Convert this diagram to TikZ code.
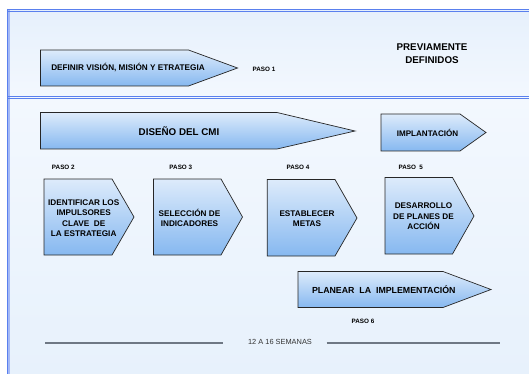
\documentclass[tikz,border=0pt]{standalone}
\usepackage{fontspec}
\setmainfont{Liberation Sans}
\begin{document}
\begin{tikzpicture}[x=1pt,y=-1pt,
  arrowbox/.style={draw=black!85,line width=0.7pt,top color=arrowtop,bottom color=arrowbot,line join=miter},
  frameline/.style={draw=framecol,line width=0.8pt},
  boxtxt/.style={align=center,inner sep=0pt,font=\bfseries\fontsize{8.2}{10.4}\selectfont},
  pasotxt/.style={inner sep=0pt,font=\bfseries\fontsize{6.3}{7}\selectfont},
  bigtxt/.style={align=center,inner sep=0pt,font=\bfseries\fontsize{9.8}{12.6}\selectfont},
  weekline/.style={draw=weekcol,line width=1.6pt}]
\definecolor{arrowtop}{HTML}{DDEBFB}
\definecolor{arrowbot}{HTML}{86B8F0}
\definecolor{framecol}{HTML}{5A80EE}
\definecolor{bgtop}{HTML}{E6F0FC}
\definecolor{bgmid}{HTML}{F3F8FE}
\definecolor{bgbot}{HTML}{E7F1FC}
\definecolor{weekcol}{HTML}{6E7884}
\newcommand\myarrow[6]{\path[arrowbox] (#1,#4) -- (#2,#4) -- (#3,#6) -- (#2,#5) -- (#1,#5) -- cycle;}
\useasboundingbox (0,0) rectangle (529,374);
\fill[white] (0,0) rectangle (529,374);
% panels
\shade[top color=bgtop,bottom color=bgmid] (7,9.5) rectangle (529,97.5);
\shade[top color=bgmid,bottom color=bgbot] (7,97.5) rectangle (529,374);
% frame
\fill[framecol!55] (7,9) rectangle (10,374);
\draw[framecol,line width=0.8pt] (7.4,9) -- (7.4,374);
\draw[frameline] (7,9.6) -- (529,9.6);
\draw[frameline] (7,11.3) -- (529,11.3);
\draw[frameline] (7,96.8) -- (529,96.8);
\draw[frameline] (7,98.5) -- (529,98.5);
% top part
\myarrow{40.5}{188.5}{237.5}{50}{86}{68}
\node[inner sep=0pt,font=\bfseries\fontsize{8.2}{10}\selectfont] (vision) at (128,68) {DEFINIR VISIÓN, MISIÓN Y ETRATEGIA};
\node[pasotxt] (paso1) at (264,69.5) {PASO 1};
\node[bigtxt] (prev) at (432,53.5) {PREVIAMENTE\\DEFINIDOS};
% big arrows
\myarrow{40.5}{277}{355}{112.5}{149}{131}
\node[bigtxt] (diseno) at (179,131) {DISEÑO DEL CMI};
\myarrow{381}{460}{486}{114}{151}{132.5}
\node[inner sep=0pt,font=\bfseries\fontsize{8.1}{10}\selectfont] (implant) at (427.5,132.5) {IMPLANTACIÓN};
% paso labels
\node[pasotxt] (paso2) at (63.3,167.5) {PASO 2};
\node[pasotxt] (paso3) at (180.8,167.5) {PASO 3};
\node[pasotxt] (paso4) at (298,167.5) {PASO 4};
\node[pasotxt] (paso5) at (410.8,167.5) {PASO\ \ 5};
% step boxes
\myarrow{44}{112}{134}{179}{255}{217}
\node[boxtxt] (b2) at (83.7,218) {IDENTIFICAR LOS\\IMPULSORES\\CLAVE\ \ DE\\LA ESTRATEGIA};
\myarrow{153.5}{221}{242.5}{179}{255}{217}
\node[boxtxt] (b3) at (189.5,218) {SELECCIÓN DE\\INDICADORES};
\myarrow{267.3}{335}{357}{179.5}{256}{218}
\node[boxtxt] (b4) at (307,218.5) {ESTABLECER\\METAS};
\myarrow{385}{452.5}{474}{177.5}{254}{216}
\node[boxtxt] (b5) at (423.5,216.5) {DESARROLLO\\DE PLANES DE\\ACCIÓN};
% planear
\myarrow{298}{443}{491}{271.5}{307.5}{289.5}
\node[inner sep=0pt,font=\bfseries\fontsize{8.8}{10}\selectfont] (planear) at (383.8,289.5) {PLANEAR\ \ LA\ \ IMPLEMENTACIÓN};
\node[pasotxt] (paso6) at (363,321.5) {PASO 6};
% weeks
\node[inner sep=0pt,text=black!80,font=\fontsize{7.4}{9}\selectfont] (weeks) at (280,341.8) {12 A 16 SEMANAS};
\coordinate (wl1) at (45,342.8);
\coordinate (wl2) at (223.3,342.8);
\coordinate (wr1) at (326.6,342.8);
\coordinate (wr2) at (500,342.8);
\draw[weekline] (wl1) -- (wl2);
\draw[weekline] (wr1) -- (wr2);
\end{tikzpicture}
\end{document}
